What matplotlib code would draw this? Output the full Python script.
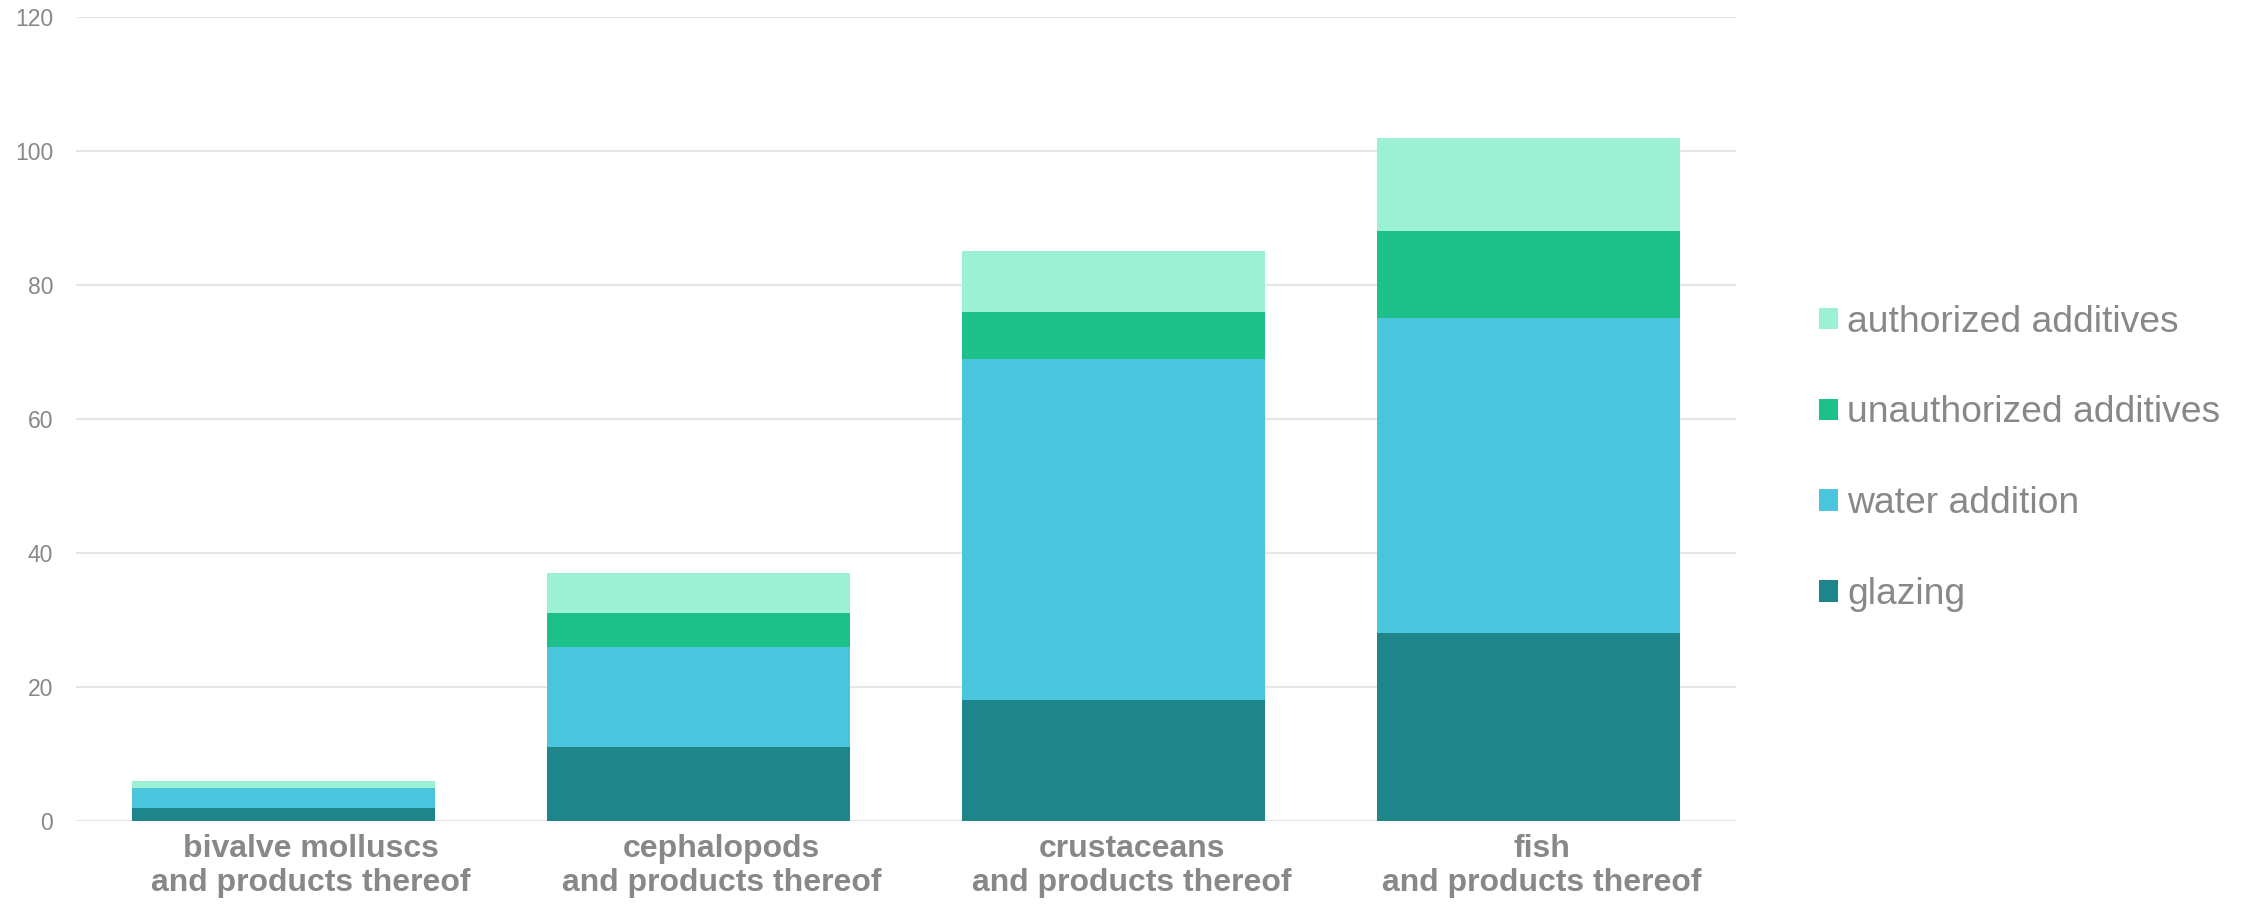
import matplotlib

matplotlib.use("Agg")
import matplotlib.pyplot as plt
import numpy as np

plt.rcParams["font.family"] = ["Liberation Sans", "DejaVu Sans"]

categories = [
    "bivalve molluscs\nand products thereof",
    "cephalopods\nand products thereof",
    "crustaceans\nand products thereof",
    "fish\nand products thereof",
]
glazing = [2, 11, 18, 28]
water_addition = [3, 15, 51, 47]
unauthorized = [0, 5, 7, 13]
authorized = [1, 6, 9, 14]

series = [
    ("glazing", glazing, "#1e868b"),
    ("water addition", water_addition, "#4bc4dd"),
    ("unauthorized additives", unauthorized, "#1ec08a"),
    ("authorized additives", authorized, "#9cf1d4"),
]
yticks = [0, 20, 40, 60, 80, 100, 120]

TEXT = "#888888"

fig = plt.figure(figsize=(22.44, 9.05), dpi=100)
ax = fig.add_axes([76 / 2244, 84 / 905, 1660 / 2244, 804 / 905])

x = np.arange(len(categories))
bottom = np.zeros(len(categories))
handles = []
for label, vals, color in series:
    h = ax.bar(x, vals, width=0.73, bottom=bottom, color=color, label=label, zorder=3)
    handles.append(h)
    bottom += np.array(vals)

ax.set_xlim(-0.5, 3.5)
ax.set_ylim(0, 120)
ax.set_yticks(yticks)
# category labels sit a little right of the bars in the original
ax.set_xticks(x + 0.066 - 0.011 * x)
ax.set_xticklabels(categories, fontsize=23, fontweight="bold", color=TEXT, linespacing=1.2)
ax.tick_params(axis="y", length=0, pad=16.5, labelsize=16.5, labelcolor=TEXT)
ax.tick_params(axis="x", length=0, pad=9)
ax.grid(axis="y", color="#e6e6e6", linewidth=1.5, zorder=0)
for s in ax.spines.values():
    s.set_visible(False)

leg = ax.legend(
    handles[::-1],
    [s[0] for s in series][::-1],
    loc="center left",
    bbox_to_anchor=(1.03, 0.451),
    frameon=False,
    fontsize=26.8,
    handlelength=0.5,
    handleheight=0.5,
    handletextpad=0.25,
    labelspacing=1.5,
)
for t in leg.get_texts():
    t.set_color(TEXT)

fig.savefig("out.png", dpi=100)
